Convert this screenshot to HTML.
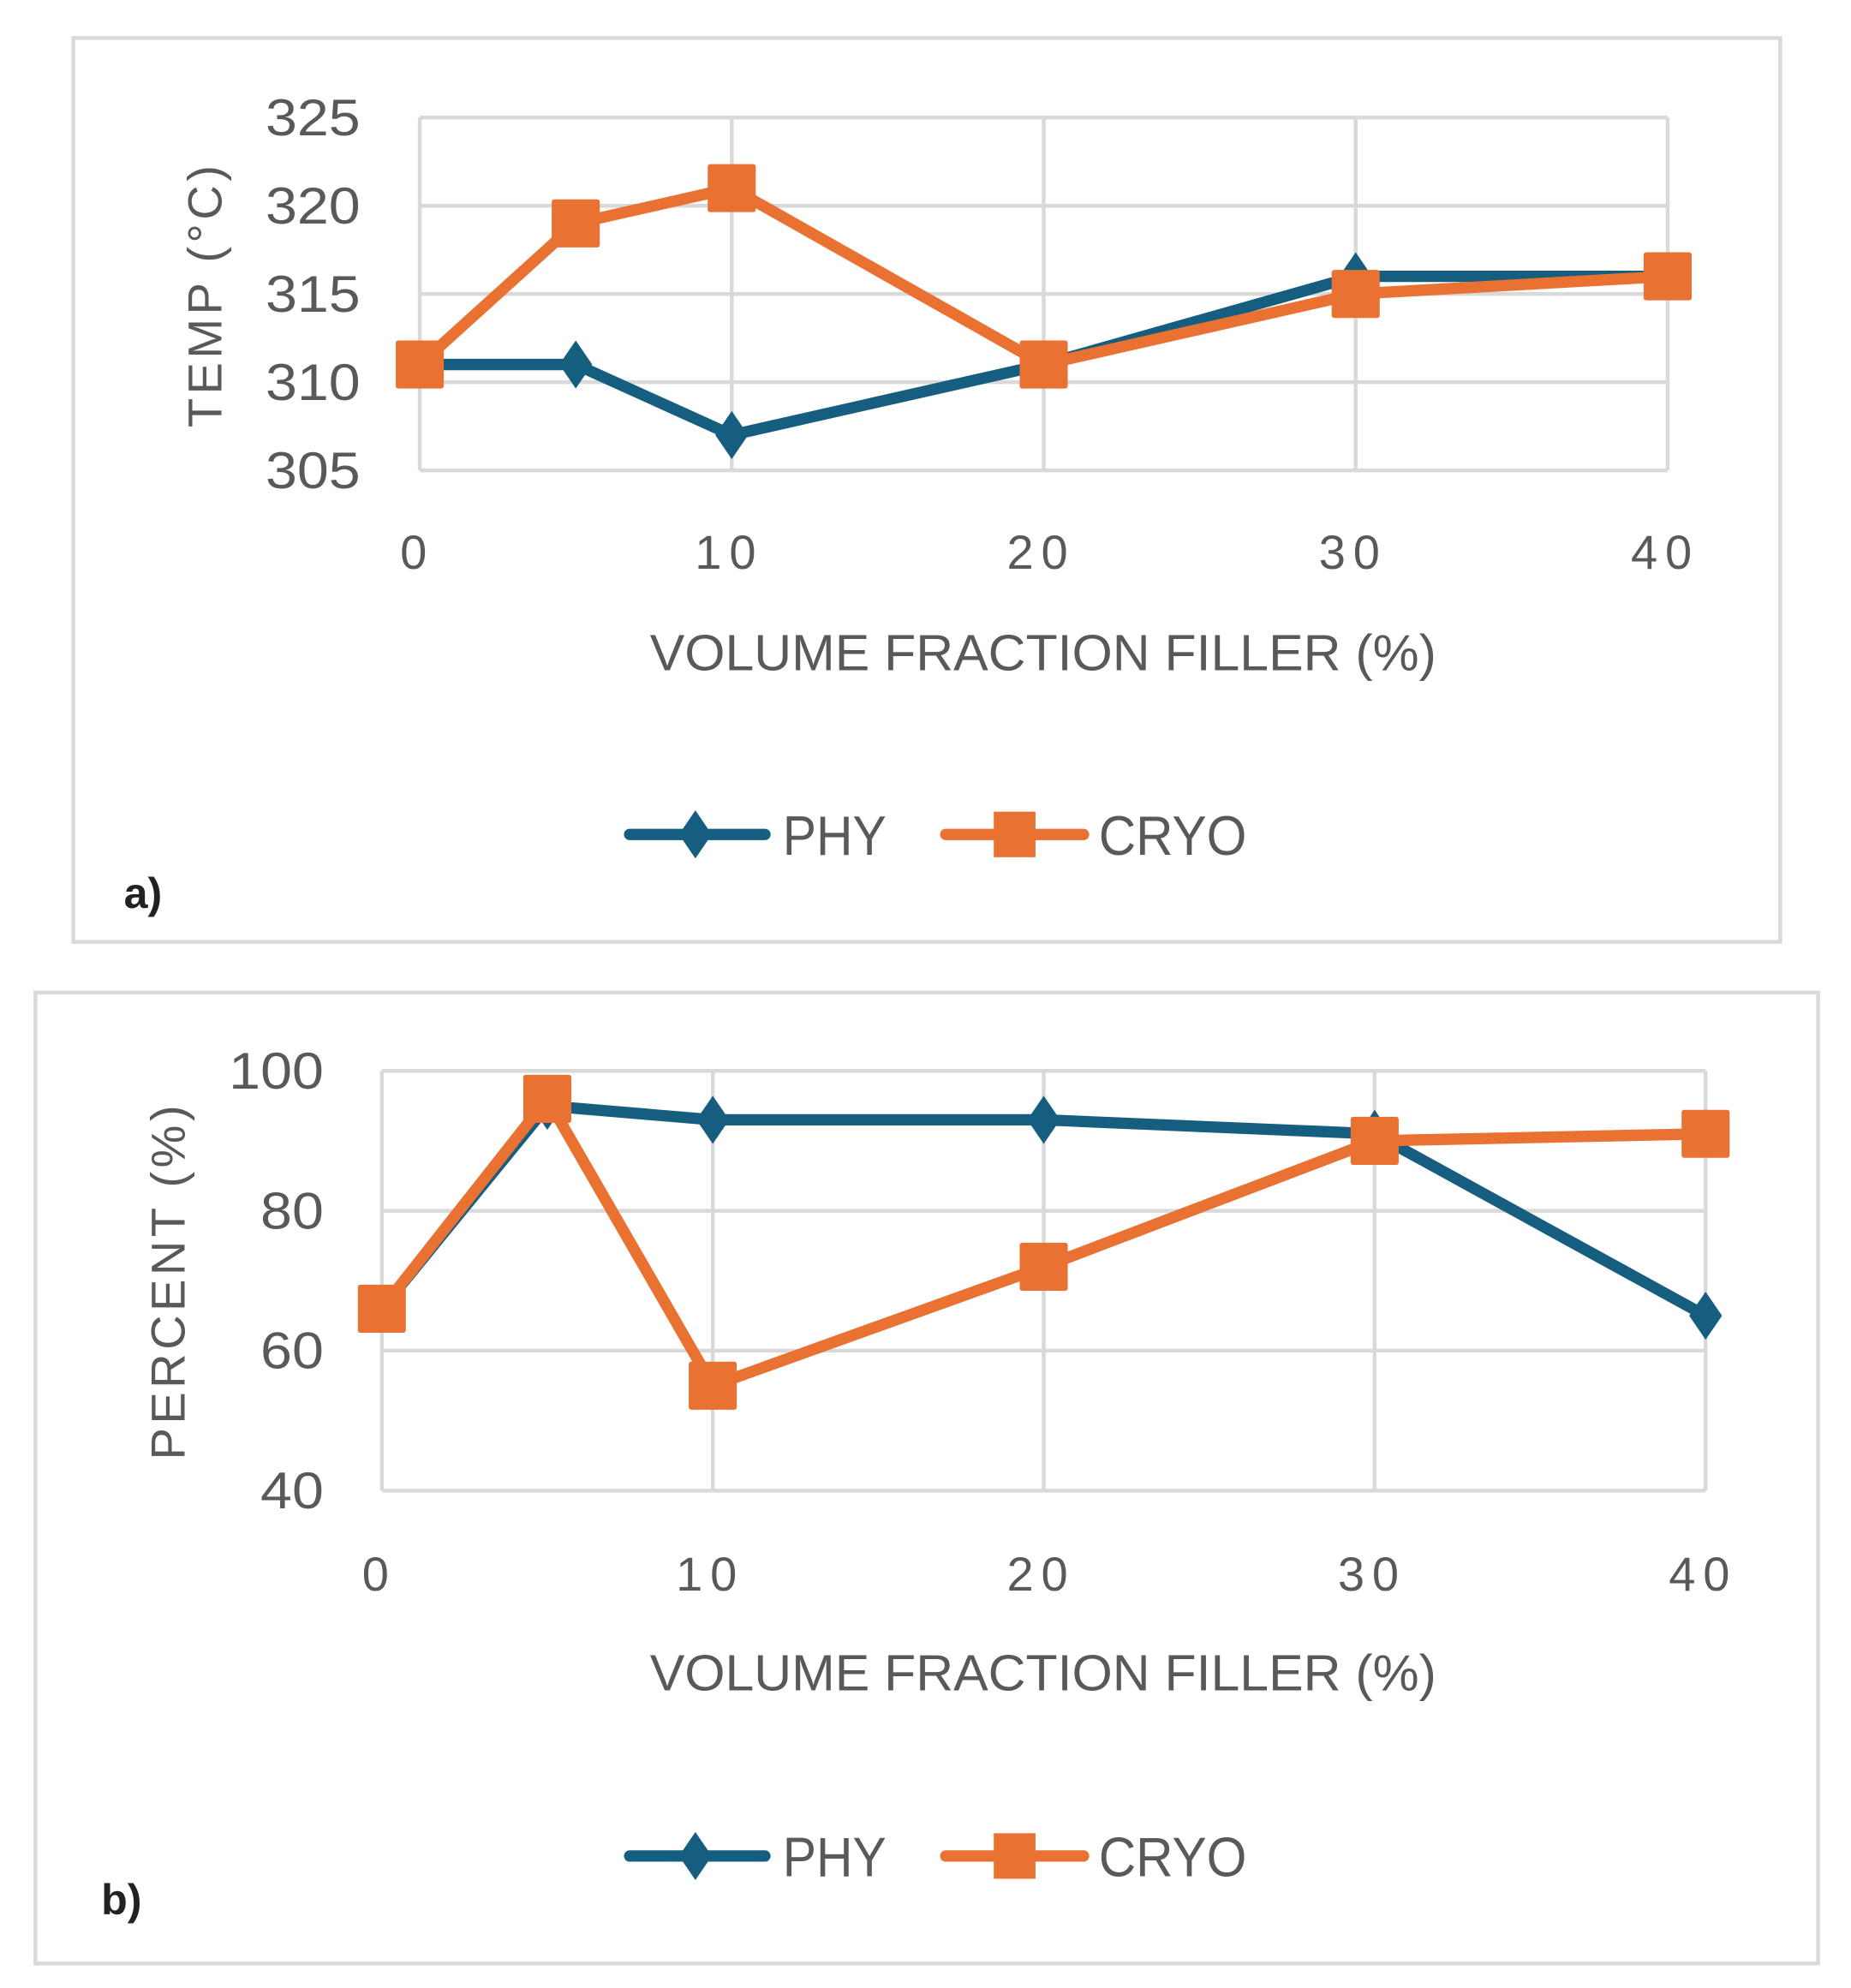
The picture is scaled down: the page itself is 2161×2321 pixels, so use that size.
<!DOCTYPE html>
<html><head><meta charset="utf-8"><style>
html,body{margin:0;padding:0;background:#fff;}
svg{display:block;}
text{font-family:"Liberation Sans",sans-serif;fill:#595959;}
</style></head><body>
<svg id="fig" width="2161" height="2321" viewBox="0 0 1464 1572.4" preserveAspectRatio="none" xmlns="http://www.w3.org/2000/svg"></svg>
<script>
const xVals = [0, 5, 10, 20, 30, 40];
const xTicks = [0, 10, 20, 30, 40];
const phyA = [311, 311, 307, 311, 316, 316];
const cryoA = [311, 319, 321, 311, 315, 316];
const yTicksA = [305, 310, 315, 320, 325];
const phyB = [66, 95, 93, 93, 91, 65];
const cryoB = [66, 96, 55, 72, 90, 91];
const yTicksB = [40, 60, 80, 100];

const NS = 'http://www.w3.org/2000/svg';
const svg = document.getElementById('fig');
const BLUE = '#165e80', ORANGE = '#e97132', GRID = '#d9d9d9';
function mk(tag, attrs, parent, txt) {
  const e = document.createElementNS(NS, tag);
  for (const k in attrs) e.setAttribute(k, attrs[k]);
  if (txt !== undefined) e.textContent = txt;
  (parent || svg).appendChild(e);
  return e;
}

function chart(cfg) {
  const g = mk('g', {});
  
  
  const fr = mk('rect', {x: cfg.frame[0], y: cfg.frame[1], width: cfg.frame[2] - cfg.frame[0], height: cfg.frame[3] - cfg.frame[1], fill: '#fff', stroke: GRID, 'stroke-width': 3}, g);
  
  
  const [px0, px1, py0, py1] = cfg.plot;
  const ymin = cfg.yTicks[0], ymax = cfg.yTicks[cfg.yTicks.length - 1];
  const sx = v => px0 + (v - 0) / 40 * (px1 - px0);
  const sy = v => py1 - (v - ymin) / (ymax - ymin) * (py1 - py0);
  cfg.yTicks.forEach(t => {
    const l = mk('line', {x1: px0, x2: px1, y1: sy(t), y2: sy(t), stroke: GRID, 'stroke-width': 3}, g);
    
    
    const tx = mk('text', {x: cfg.yLabelX, y: sy(t) + 14, 'text-anchor': 'end', 'font-size': 41, textLength: String(t).length * 25, lengthAdjust: 'spacingAndGlyphs'}, g, String(t));
    
    
  });
  xTicks.forEach(t => {
    const l = mk('line', {x1: sx(t), x2: sx(t), y1: py0, y2: py1, stroke: GRID, 'stroke-width': 3}, g);
    
    
    const tx = mk('text', {x: sx(t) - 2, y: cfg.xLabelY, 'text-anchor': 'middle', 'font-size': 38, 'letter-spacing': 6}, g, String(t));
    
    
  });
  const xt = mk('text', {x: 825, y: cfg.xTitleY, 'text-anchor': 'middle', 'font-size': 40, textLength: 622, lengthAdjust: 'spacingAndGlyphs'}, g, 'VOLUME FRACTION FILLER (%)');
  
  
  const yt = mk('text', {x: 0, y: 0, 'text-anchor': 'middle', 'font-size': 38, 'letter-spacing': 3, transform: `translate(${cfg.yTitle[0]},${cfg.yTitle[1]}) rotate(-90)`}, g, cfg.yTitleText);
  
  
  const series = [[cfg.phy, BLUE, 'diamond', 'phy'], [cfg.cryo, ORANGE, 'square', 'cryo']];
  series.forEach(([vals, col, shape, nm]) => {
    const pts = vals.map((v, i) => sx(xVals[i]) + ',' + sy(v)).join(' ');
    const pl = mk('polyline', {points: pts, fill: 'none', stroke: col, 'stroke-width': 9, 'stroke-linejoin': 'round'}, g);
    
    
  });
  series.forEach(([vals, col, shape, nm]) => {
    vals.forEach((v, i) => {
      const cx = sx(xVals[i]), cy = sy(v);
      let m;
      if (shape === 'diamond') m = mk('polygon', {points: `${cx},${cy - 19} ${cx + 13},${cy} ${cx},${cy + 19} ${cx - 13},${cy}`, fill: col}, g);
      else m = mk('rect', {x: cx - 19, y: cy - 19, width: 38, height: 38, rx: 2, fill: col}, g);
      
      
    });
  });
  const ly = cfg.legendY;
  const lg = mk('g', {}, g);
  
  
  const l1 = mk('line', {x1: 498, x2: 605, y1: ly, y2: ly, stroke: BLUE, 'stroke-width': 9, 'stroke-linecap': 'round'}, lg);
  
  
  const d1 = mk('polygon', {points: `550,${ly - 19} 563,${ly} 550,${ly + 19} 537,${ly}`, fill: BLUE}, lg);
  
  
  const t1 = mk('text', {x: 619, y: ly + 16, 'font-size': 44, textLength: 82, lengthAdjust: 'spacingAndGlyphs'}, lg, 'PHY');
  
  
  const l2 = mk('line', {x1: 748, x2: 857, y1: ly, y2: ly, stroke: ORANGE, 'stroke-width': 9, 'stroke-linecap': 'round'}, lg);
  
  
  const s2 = mk('rect', {x: 786, y: ly - 18, width: 33, height: 36, fill: ORANGE}, lg);
  
  
  const t2 = mk('text', {x: 869, y: ly + 16, 'font-size': 44, textLength: 117, lengthAdjust: 'spacingAndGlyphs'}, lg, 'CRYO');
  
  
  const pl = mk('text', {x: cfg.panel[0], y: cfg.panel[1], 'font-size': 34, style: 'fill:#222', 'font-weight': 'bold'}, g, cfg.panelText);
  
  
}

chart({name: 'chart-a-temperature', frame: [58, 30, 1408, 745], plot: [332, 1319, 93, 372], yTicks: yTicksA,
  phy: phyA, cryo: cryoA, yLabelX: 285, xLabelY: 450, xTitleY: 530, yTitle: [175, 233], yTitleText: 'TEMP (°C)',
  legendY: 660, panel: [98, 718], panelText: 'a)'});
chart({name: 'chart-b-percent', frame: [28, 785, 1438, 1553], plot: [302, 1349, 847, 1179], yTicks: yTicksB,
  phy: phyB, cryo: cryoB, yLabelX: 256, xLabelY: 1258, xTitleY: 1337, yTitle: [146, 1013], yTitleText: 'PERCENT (%)',
  legendY: 1468, panel: [80, 1514], panelText: 'b)'});
</script>
</body></html>
